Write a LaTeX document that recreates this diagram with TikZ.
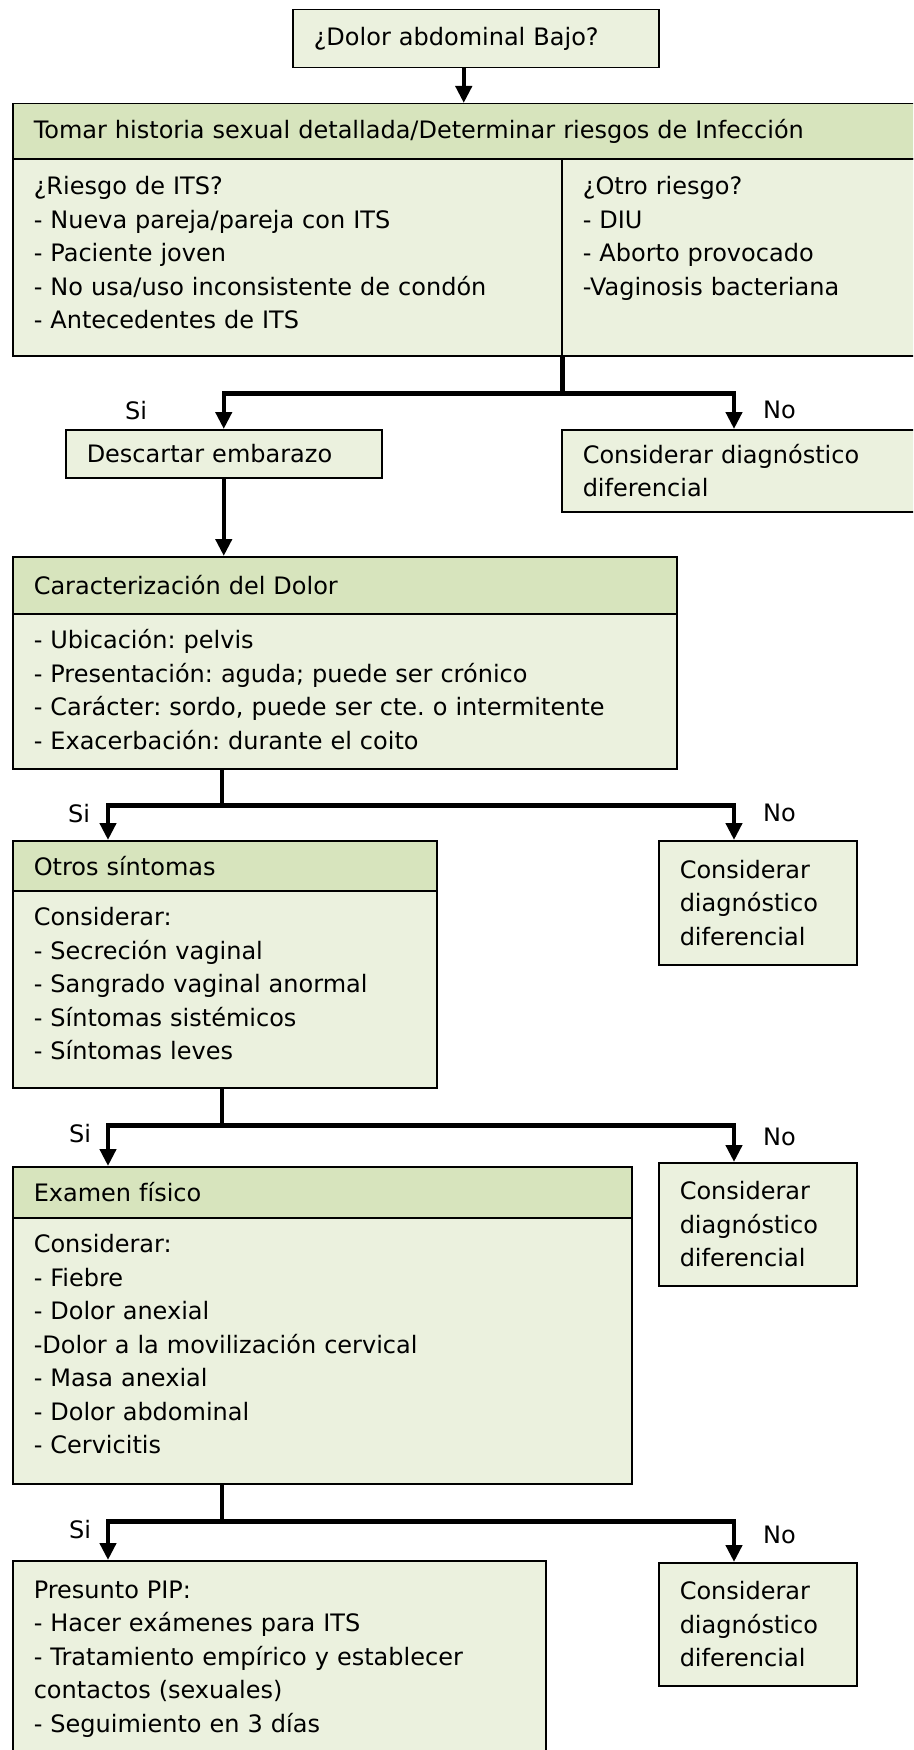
\documentclass[tikz,border=0pt]{standalone}
\usepackage{fontspec}
\setmainfont{DejaVu Sans}
\usetikzlibrary{arrows.meta,positioning}
\usepackage{xcolor}

\definecolor{hdrgreen}{HTML}{D7E4BD}
\definecolor{bodygreen}{HTML}{EBF1DE}

\tikzset{
    box/.style={draw=black, line width=1.5pt, fill=bodygreen, anchor=north west,
        align=left, inner xsep=21pt, inner ysep=4pt,
        font=\fontsize{24}{33.5}\selectfont\frenchspacing},
    header/.style={box, fill=hdrgreen},
    % extra depth under the last line pushes the text block up a little
    lift/.style={execute at end node={\rule[-#1]{0pt}{#1}}},
    link/.style={line width=4.5pt},
    linkarrow/.style={link, -{Triangle[length=17pt,width=16pt]}},
    answer/.style={anchor=base west, inner sep=0pt, font=\fontsize{24}{33.5}\selectfont}
}

\begin{document}
\begin{tikzpicture}[x=1pt,y=-1pt]
            \useasboundingbox (0,0) rectangle (913,1750);
            \fill[white] (0,0) rectangle (913,1750);
            \clip (0,0) rectangle (913,1750);

            % Columns used by the arrows
            \coordinate (sicol) at (108,0);
            \coordinate (stemcol) at (222,0);
            \coordinate (nocol) at (734,0);

            % Start and sexual history
            \node[box, text width=324pt, minimum height=58pt] (dolor) at (292,9) {¿Dolor abdominal Bajo?};
            \node[header, text width=946pt, minimum height=55pt] (histH) at (12,103)
                {Tomar historia sexual detallada/Determinar riesgos de Infección};
            \node[box, lift=9pt, text width=507pt, minimum height=197pt] (riesgoL) at (12,158)
                {¿Riesgo de ITS?\\- Nueva pareja/pareja con ITS\\- Paciente joven\\- No usa/uso inconsistente de condón\\- Antecedentes de ITS};
            \node[box, lift=9pt, text width=397pt, minimum height=197pt] (riesgoR) at (561,158)
                {¿Otro riesgo?\\- DIU\\- Aborto provocado\\-Vaginosis bacteriana\\ \mbox{}};

            \node[box, text width=274pt, minimum height=48pt] (descartar) at (65,429) {Descartar embarazo};
            \node[box, text width=397pt, minimum height=82pt] (diff1) at (561,429) {Considerar diagnóstico\\diferencial};

            % Pain
            \node[header, text width=622pt, minimum height=57pt] (caractH) at (12,556) {Caracterización del Dolor};
            \node[box, lift=4pt, text width=622pt, minimum height=155pt] (caractB) at (12,613)
                {- Ubicación: pelvis\\- Presentación: aguda; puede ser crónico\\- Carácter: sordo, puede ser cte. o intermitente\\- Exacerbación: durante el coito};

            % Other symptoms
            \node[header, text width=382pt, minimum height=50pt] (otrosH) at (12,840) {Otros síntomas};
            \node[box, lift=11pt, text width=382pt, minimum height=197pt] (otrosB) at (12,890)
                {Considerar:\\- Secreción vaginal\\- Sangrado vaginal anormal\\- Síntomas sistémicos\\- Síntomas leves};
            \node[box, text width=156pt, minimum height=124pt] (diff2) at (658,840) {Considerar\\diagnóstico\\diferencial};

            % Physical exam
            \node[header, text width=577pt, minimum height=51pt] (examenH) at (12,1166) {Examen físico};
            \node[box, lift=13pt, text width=577pt, minimum height=266pt] (examenB) at (12,1217)
                {Considerar:\\- Fiebre\\- Dolor anexial\\-Dolor a la movilización cervical\\- Masa anexial\\- Dolor abdominal\\- Cervicitis};
            \node[box, text width=156pt, minimum height=123pt] (diff3) at (658,1162) {Considerar\\diagnóstico\\diferencial};

            % Outcome
            \node[box, lift=7pt, text width=491pt, minimum height=198pt] (presunto) at (12,1560)
                {Presunto PIP:\\- Hacer exámenes para ITS\\- Tratamiento empírico y establecer\\contactos (sexuales)\\- Seguimiento en 3 días};
            \node[box, text width=156pt, minimum height=123pt] (diff4) at (658,1562) {Considerar\\diagnóstico\\diferencial};

            % Arrows
            \draw[linkarrow] ([xshift=-12pt]dolor.south) -- ([xshift=-12pt]dolor.south |- histH.north);

            \draw[link] (riesgoL.south east) -- ++(0,37) coordinate (fork1);
            \draw[linkarrow] (fork1) -| (descartar.north);
            \draw[linkarrow] (fork1) -| (diff1.north -| nocol);
            \draw[linkarrow] (descartar.south) -- (descartar.south |- caractH.north);

            \draw[link] (caractB.south -| stemcol) -- ++(0,36) coordinate (fork2);
            \draw[linkarrow] (fork2) -| (otrosH.north -| sicol);
            \draw[linkarrow] (fork2) -| (diff2.north -| nocol);

            \draw[link] (otrosB.south -| stemcol) -- ++(0,37) coordinate (fork3);
            \draw[linkarrow] (fork3) -| (examenH.north -| sicol);
            \draw[linkarrow] (fork3) -| (diff3.north -| nocol);

            \draw[link] (examenB.south -| stemcol) -- ++(0,37) coordinate (fork4);
            \draw[linkarrow] (fork4) -| (presunto.north -| sicol);
            \draw[linkarrow] (fork4) -| (diff4.north -| nocol);

            % Labels
            \node[answer] (si1) at (125,419) {Si};
            \node[answer] (no1) at (763,418) {No};
            \node[answer] (si2) at (68,822) {Si};
            \node[answer] (no2) at (763,821) {No};
            \node[answer] (si3) at (69,1142) {Si};
            \node[answer] (no3) at (763,1145) {No};
            \node[answer] (si4) at (69,1538) {Si};
            \node[answer] (no4) at (763,1543) {No};
\end{tikzpicture}
\end{document}
